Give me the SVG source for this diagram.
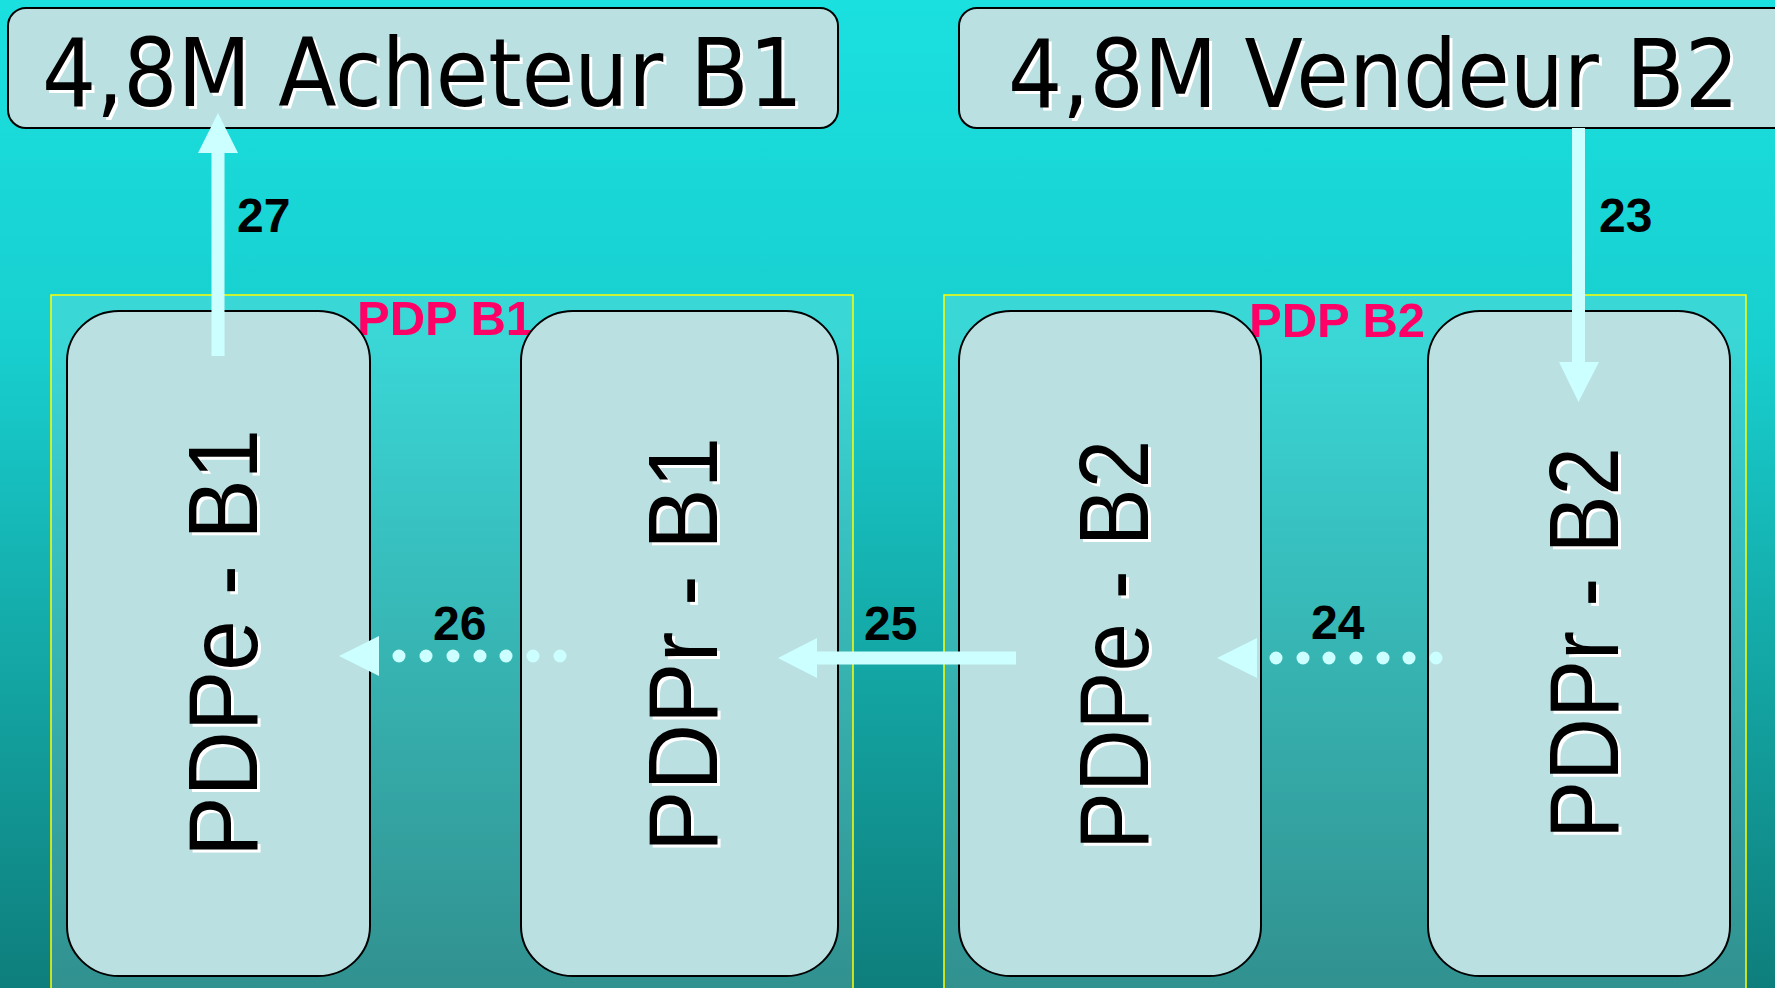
<svg xmlns="http://www.w3.org/2000/svg" width="1775" height="988" viewBox="0 0 1775 988">
<defs>
<linearGradient id="bg" x1="0" y1="0" x2="0" y2="988" gradientUnits="userSpaceOnUse">
<stop offset="0" stop-color="#1BE0E0"/>
<stop offset="0.35" stop-color="#18CFCF"/>
<stop offset="0.7" stop-color="#13A3A1"/>
<stop offset="1" stop-color="#0E7E7C"/>
</linearGradient>
<style>
.grp{fill:#ffffff;fill-opacity:0.15;stroke:#FFFF00;stroke-width:1.5}
.node{fill:#BAE0E2;stroke:#000;stroke-width:2}
.big{font-family:"DejaVu Sans",sans-serif;font-size:95px;fill:#000}
.bigs{font-family:"DejaVu Sans",sans-serif;font-size:95px;fill:#fff}
.rot{font-family:"Liberation Sans",Arial,sans-serif;font-size:98px;fill:#000}
.rots{font-family:"Liberation Sans",Arial,sans-serif;font-size:98px;fill:#fff}
.lbl{font-family:"Liberation Sans",Arial,sans-serif;font-size:48px;font-weight:bold;fill:#000}
.pdp{font-family:"Liberation Sans",Arial,sans-serif;font-size:49px;font-weight:bold;fill:#FF0066}
.shaft{stroke:#CCFFFF;stroke-width:13;fill:none}
.dot{fill:#CCFFFF}
.head{fill:#CCFFFF}
</style>
</defs>
<rect x="0" y="0" width="1775" height="988" fill="url(#bg)"/>

<g id="group-pdp-b1">
<rect class="grp" x="51" y="295" width="802" height="710"/>
<text class="pdp" x="357" y="335">PDP B1</text>
</g>
<g id="group-pdp-b2">
<rect class="grp" x="944" y="295" width="802" height="710"/>
<text class="pdp" x="1249" y="337">PDP B2</text>
</g>

<g id="node-acheteur">
<rect class="node" x="8" y="8" width="830" height="120" rx="18" ry="18" stroke-width="1.5"/>
<text class="bigs" x="45" y="109" textLength="761" lengthAdjust="spacingAndGlyphs">4,8M Acheteur B1</text>
<text class="big" x="42" y="106" textLength="761" lengthAdjust="spacingAndGlyphs">4,8M Acheteur B1</text>
</g>

<g id="node-vendeur">
<path class="node" stroke-width="1.5" d="M1777,8 H977 A18,18 0 0 0 959,26 V110 A18,18 0 0 0 977,128 H1777 Z"/>
<text class="bigs" x="1011" y="110" textLength="731" lengthAdjust="spacingAndGlyphs">4,8M Vendeur B2</text>
<text class="big" x="1008" y="107" textLength="731" lengthAdjust="spacingAndGlyphs">4,8M Vendeur B2</text>
</g>

<g id="node-pdpe-b1">
<rect class="node" x="67" y="311" width="303" height="665" rx="52" ry="50"/>
<text class="rots" transform="translate(260,860) rotate(-90)" textLength="428" lengthAdjust="spacingAndGlyphs">PDPe - B1</text>
<text class="rot" transform="translate(257,857) rotate(-90)" textLength="428" lengthAdjust="spacingAndGlyphs">PDPe - B1</text>
</g>

<g id="node-pdpr-b1">
<rect class="node" x="521" y="311" width="317" height="665" rx="52" ry="50"/>
<text class="rots" transform="translate(720,855) rotate(-90)" textLength="415" lengthAdjust="spacingAndGlyphs">PDPr - B1</text>
<text class="rot" transform="translate(717,852) rotate(-90)" textLength="415" lengthAdjust="spacingAndGlyphs">PDPr - B1</text>
</g>

<g id="node-pdpe-b2">
<rect class="node" x="959" y="311" width="302" height="665" rx="52" ry="50"/>
<text class="rots" transform="translate(1151,853) rotate(-90)" textLength="410" lengthAdjust="spacingAndGlyphs">PDPe - B2</text>
<text class="rot" transform="translate(1148,850) rotate(-90)" textLength="410" lengthAdjust="spacingAndGlyphs">PDPe - B2</text>
</g>

<g id="node-pdpr-b2">
<rect class="node" x="1428" y="311" width="302" height="665" rx="52" ry="50"/>
<text class="rots" transform="translate(1621,842) rotate(-90)" textLength="392" lengthAdjust="spacingAndGlyphs">PDPr - B2</text>
<text class="rot" transform="translate(1618,839) rotate(-90)" textLength="392" lengthAdjust="spacingAndGlyphs">PDPr - B2</text>
</g>

<g id="connectors">
<!-- 27: PDPe-B1 -> Acheteur -->
<line class="shaft" x1="218" y1="356" x2="218" y2="150"/>
<polygon class="head" points="218,113 198,153 238,153"/>
<text class="lbl" x="237" y="232">27</text>

<!-- 23: Vendeur -> PDPr-B2 -->
<line class="shaft" x1="1578.5" y1="128" x2="1578.5" y2="365"/>
<polygon class="head" points="1578.5,402 1559,362 1599,362"/>
<text class="lbl" x="1599" y="232">23</text>

<!-- 25: PDPe-B2 -> PDPr-B1 -->
<line class="shaft" x1="1016" y1="658" x2="814" y2="658" stroke-width="12"/>
<polygon class="head" points="778,658 817,638 817,678"/>
<text class="lbl" x="864" y="640">25</text>

<!-- 26: PDPr-B1 -> PDPe-B1 (dotted) -->
<g id="edge-26">
<circle class="dot" cx="399" cy="656" r="6.5"/>
<circle class="dot" cx="426" cy="656" r="6.5"/>
<circle class="dot" cx="453" cy="656" r="6.5"/>
<circle class="dot" cx="480" cy="656" r="6.5"/>
<circle class="dot" cx="506" cy="656" r="6.5"/>
<circle class="dot" cx="533" cy="656" r="6.5"/>
<circle class="dot" cx="560" cy="656" r="6.5"/>
<polygon class="head" points="339,656 379,636 379,676"/>
</g>
<text class="lbl" x="433" y="640">26</text>

<!-- 24: PDPr-B2 -> PDPe-B2 (dotted) -->
<g id="edge-24">
<circle class="dot" cx="1276" cy="658" r="6.5"/>
<circle class="dot" cx="1303" cy="658" r="6.5"/>
<circle class="dot" cx="1329" cy="658" r="6.5"/>
<circle class="dot" cx="1356" cy="658" r="6.5"/>
<circle class="dot" cx="1383" cy="658" r="6.5"/>
<circle class="dot" cx="1409" cy="658" r="6.5"/>
<circle class="dot" cx="1436" cy="658" r="6.5"/>
<polygon class="head" points="1217,658 1257,638 1257,678"/>
</g>
<text class="lbl" x="1311" y="639">24</text>
</g>
</svg>
